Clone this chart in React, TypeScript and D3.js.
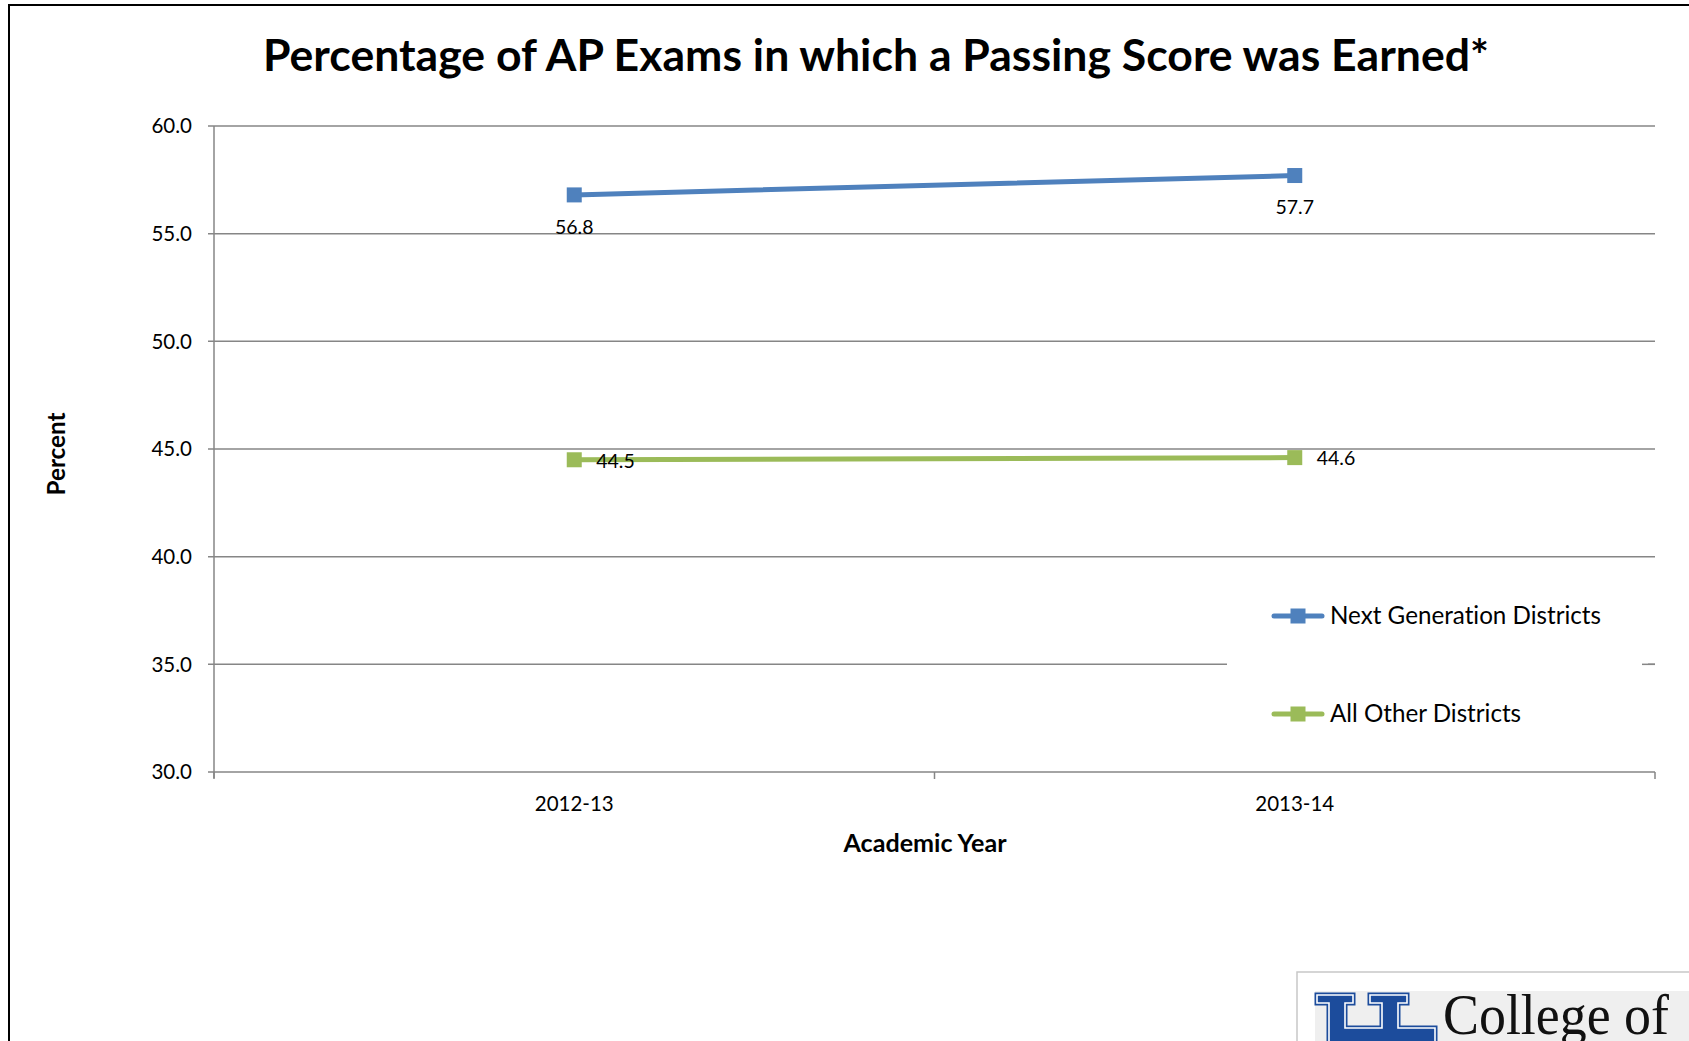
import React, { useEffect } from "react";
import * as d3 from "d3";

const categories = ["2012-13", "2013-14"];
const nextGen = [56.8, 57.7];
const allOther = [44.5, 44.6];
const yTicks = [30, 35, 40, 45, 50, 55, 60];
const seriesNames = ["Next Generation Districts", "All Other Districts"];
const seriesColors = ["#4F81BD", "#9BBB59"];

const W = 1689;
const H = 1041;
const FONT = "Lato, 'Open Sans', sans-serif";

export default function App() {
  useEffect(() => {
    document.body.style.margin = "0";
  }, []);

  const x = d3.scaleBand<string>().domain(categories).range([214, 1655]);
  const y = d3.scaleLinear().domain([30, 60]).range([772, 126]);
  const cx = (c: string) => (x(c) as number) + x.bandwidth() / 2;

  const line = d3
    .line<number>()
    .x((_, i) => cx(categories[i]))
    .y((d) => y(d));

  const series = [nextGen, allOther];
  const ms = 15;
  const logoPts: [number, number][] = [
    [1317, 995], [1353, 995], [1353, 1003], [1345, 1003], [1345, 1028], [1382, 1028],
    [1382, 1003], [1370, 1003], [1370, 995], [1407, 995], [1407, 1003], [1398, 1003],
    [1398, 1028], [1435, 1028], [1435, 1048], [1329, 1048], [1329, 1003], [1317, 1003],
  ];
  const logoPath = "M" + logoPts.map((p) => p.join(",")).join("L") + "Z";

  return (
    <svg width={W} height={H} style={{ display: "block", background: "#fff", fontVariantLigatures: "none" }}>
      <rect x={9} y={5} width={1700} height={1100} fill="#fff" stroke="#000" strokeWidth={2} />
      <text x={876} y={71} textAnchor="middle" fontFamily={FONT} fontWeight={700} fontSize={43} textLength={1226} lengthAdjust="spacingAndGlyphs" fill="#000">
        Percentage of AP Exams in which a Passing Score was Earned*
      </text>
      {yTicks.map((t) => (
        <g key={t}>
          <line x1={208} x2={1655} y1={y(t)} y2={y(t)} stroke="#868686" strokeWidth={1.5} />
          <text x={192} y={y(t)} dy="0.35em" textAnchor="end" fontFamily={FONT} fontSize={20.5} fill="#000">
            {t.toFixed(1)}
          </text>
        </g>
      ))}
      <line x1={214} x2={214} y1={126} y2={778} stroke="#868686" strokeWidth={1.5} />
      {[214, 214 + x.bandwidth(), 1655].map((tx, i) => (
        <line key={i} x1={tx} x2={tx} y1={772} y2={779} stroke="#868686" strokeWidth={1.5} />
      ))}
      {categories.map((c) => (
        <text key={c} x={cx(c)} y={804} dy="0.35em" textAnchor="middle" fontFamily={FONT} fontSize={20.5} fill="#000">
          {c}
        </text>
      ))}
      <text x={925} y={844} dy="0.35em" textAnchor="middle" fontFamily={FONT} fontWeight={700} fontSize={24} textLength={163} lengthAdjust="spacingAndGlyphs" fill="#000">
        Academic Year
      </text>
      <text
        transform={`translate(57,454) rotate(-90)`}
        dy="0.35em"
        textAnchor="middle"
        fontFamily={FONT}
        fontWeight={700}
        fontSize={24}
        textLength={83}
        lengthAdjust="spacingAndGlyphs"
        fill="#000"
      >
        Percent
      </text>
      <rect x={1227} y={590} width={421} height={160} fill="#fff" />
      <line x1={1642} x2={1655} y1={y(35)} y2={y(35)} stroke="#868686" strokeWidth={1.5} />
      {series.map((s, si) => (
        <g key={si}>
          <path d={line(s) || ""} fill="none" stroke={seriesColors[si]} strokeWidth={5} strokeLinecap="round" />
          {s.map((v, i) => (
            <rect
              key={i}
              x={cx(categories[i]) - ms / 2}
              y={y(v) - ms / 2}
              width={ms}
              height={ms}
              fill={seriesColors[si]}
            />
          ))}
        </g>
      ))}
      {nextGen.map((v, i) => (
        <text key={i} x={cx(categories[i])} y={y(v) + 32} dy="0.35em" textAnchor="middle" fontFamily={FONT} fontSize={19.5} fill="#000">
          {v.toFixed(1)}
        </text>
      ))}
      {allOther.map((v, i) => (
        <text key={i} x={cx(categories[i]) + 22} y={y(v) + 1} dy="0.35em" textAnchor="start" fontFamily={FONT} fontSize={19.5} fill="#000">
          {v.toFixed(1)}
        </text>
      ))}
      {seriesNames.map((n, i) => {
        const ly = 616 + i * 98;
        return (
          <g key={n}>
            <line x1={1274} x2={1322} y1={ly} y2={ly} stroke={seriesColors[i]} strokeWidth={5} strokeLinecap="round" />
            <rect x={1298 - ms / 2} y={ly - ms / 2} width={ms} height={ms} fill={seriesColors[i]} />
            <text x={1330} y={ly} dy="0.35em" fontFamily={FONT} fontSize={24.2} fill="#000">
              {n}
            </text>
          </g>
        );
      })}
      <rect x={1297} y={972} width={420} height={100} fill="#fff" stroke="#c8c8c8" strokeWidth={1.5} />
      <rect x={1315} y={991} width={400} height={80} fill="#efefef" />
      <path d={logoPath} fill="#1c4c9c" stroke="#1c4c9c" strokeWidth={5} strokeLinejoin="miter" />
      <path d={logoPath} fill="#1c4c9c" stroke="#fff" strokeWidth={1.6} strokeLinejoin="miter" />
      <text x={1443} y={1034} fontFamily="'Liberation Serif', 'DejaVu Serif', serif" fontSize={58} textLength={226} lengthAdjust="spacingAndGlyphs" fill="#111">
        College of
      </text>
    </svg>
  );
}
